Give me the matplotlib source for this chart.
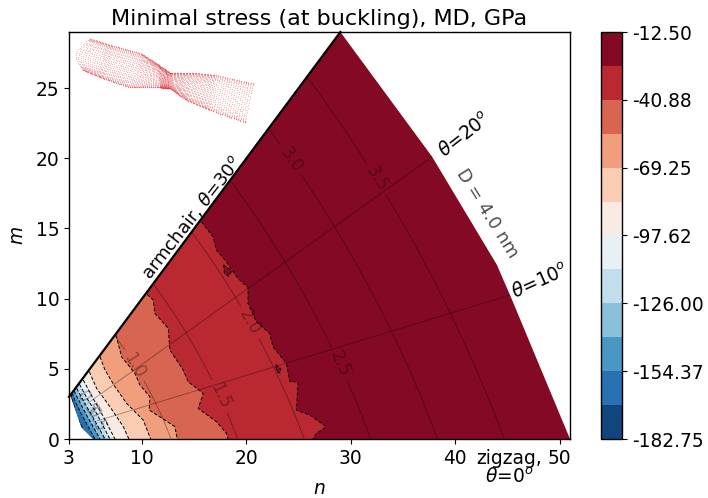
import numpy as np
import matplotlib
matplotlib.use('Agg')
import matplotlib.pyplot as plt
from matplotlib.patches import Polygon
from matplotlib.colors import BoundaryNorm, ListedColormap
from matplotlib.cm import ScalarMappable

# contour levels, GPa
levels = [-182.75, -168.56, -154.37, -140.19, -126.00, -111.81, -97.62,
          -83.44, -69.25, -55.06, -40.88, -26.69, -12.50]
cbar_ticks = levels[::2]

# outline of the (n, m) region with data
domain = [(3, 3), (29, 29), (37.8, 20.1), (44, 12.4), (45.4, 10.0), (48.2, 5), (51, 0),
          (5.3, 0), (4.2, 0.85), (3.1, 3.2)]

# stress contours, from the armchair edge down to m=0
c_2669 = [(15.7, 15.48), (16.81, 14.41), (17.13, 13.46), (18.09, 12.63), (19.2, 11.44),
          (20.16, 10.8), (20.16, 9.66), (20.96, 8.35), (22.24, 7.52), (22.55, 6.57),
          (23.83, 5.39), (24.15, 4.08), (24.95, 4.08), (24.79, 2.06), (26.06, 1.71),
          (27.66, 0.88), (26.7, 0.4), (26.38, 0)]
c_4088 = [(10.5, 10.3), (11.07, 9.9), (11.23, 8.95), (12.51, 7.88), (12.67, 6.34),
          (13.94, 4.91), (14.42, 4.08), (15.86, 3.25), (15.38, 2.18), (17.13, 1.23),
          (18.09, 0.4), (18.25, 0)]
c_5506 = [(7.5, 7.4), (8.04, 5.86), (9.32, 4.67), (9.8, 3.84), (10.75, 3.01),
          (10.69, 2.06), (12.19, 1.35), (13.14, 0.88), (13.37, 0)]
c_6925 = [(5.97, 5.86), (6.45, 4.91), (7.4, 3.73), (8.52, 2.54), (10.11, 1.35), (10.82, 0)]
c_8344 = [(4.95, 4.79), (5.65, 3.6), (6.92, 2.3), (8.2, 0.88), (8.74, 0)]
c_9762 = [(4.37, 4.2), (5.3, 2.9), (6.29, 1.59), (7.4, 0)]
c_11181 = [(4.0, 3.9), (4.8, 2.8), (5.65, 1.82), (6.92, 0)]
c_12600 = [(3.74, 3.6), (4.4, 2.7), (5.17, 1.7), (6.45, 0)]
c_14019 = [(3.48, 3.44), (4.05, 2.6), (4.69, 1.7), (5.97, 0)]
c_15437 = [(3.29, 3.3), (3.65, 2.6), (4.2, 1.75), (5.49, 0)]
c_16856 = [(3.16, 3.2), (3.4, 2.6), (3.73, 1.7), (4.53, 0.4), (4.85, 0)]
contours = [c_2669, c_4088, c_5506, c_6925, c_8344, c_9762, c_11181, c_12600, c_14019,
            c_15437, c_16856]

# two small closed pockets of the top band
pocket_1 = [(17.8, 12.4), (18.6, 12.0), (18.3, 11.6), (17.9, 11.8)]
pocket_2 = [(22.8, 5.3), (23.3, 5.0), (23.2, 4.7), (22.9, 4.8)]

# diameter and chirality guide lines
d_levels = [0.5, 1.0, 1.5, 2.0, 2.5, 3.0, 3.5]
theta_levels = [10, 20]
d_label_pos = [(4.9, 2.6), (6.06, 1.7), (9.6, 5.4), (17.6, 3.1), (20.3, 8.3), (29, 5.4),
               (24.3, 19.9), (32.6, 18.6)]

# outline of the small tube picture
tube_top = [(5.01, 28.54), (7.24, 28.02), (9.95, 27.47), (11.39, 26.76), (12.67, 26.1),
            (14.9, 26.1), (17.13, 25.93), (20.64, 25.34)]
tube_bottom = [(4.37, 26.28), (6.29, 25.69), (8.84, 25.05), (11.71, 25.05), (12.67, 24.98),
               (14.26, 24.15), (16.49, 23.44), (19.84, 22.56)]

fs = 13.4
plt.rcParams['font.size'] = fs
plt.rcParams['mathtext.default'] = 'it'
plt.rcParams['axes.linewidth'] = 1.0

cmap = plt.get_cmap('RdBu_r')
band_colors = [cmap((i + 0.5) / 12) for i in range(12)]

fig = plt.figure(figsize=(7.08, 4.98), dpi=100)
ax = fig.add_axes([69 / 708, 59 / 498, 501 / 708, 407 / 498])
cax = fig.add_axes([601 / 708, 59 / 498, 21 / 708, 407 / 498])

domain_patch = Polygon(domain, closed=True, facecolor=band_colors[11], edgecolor='none', zorder=1)
ax.add_patch(domain_patch)

# paint from the top band inwards, every band covers the previous one up to its contour
for i, c in enumerate(contours):
    xs = [p[0] for p in c]
    ys = [p[1] for p in c]
    poly = ax.fill(xs + [3, 3], ys + [0, ys[0] + 1], color=band_colors[10 - i], lw=0, zorder=2)[0]
    poly.set_clip_path(domain_patch)
    line = ax.plot(xs, ys, color='k', lw=0.7, ls=(0, (3.5, 2)), zorder=3)[0]
    line.set_clip_path(domain_patch)

for pocket in (pocket_1, pocket_2):
    ax.add_patch(Polygon(pocket, closed=True, facecolor=band_colors[11], edgecolor='k', lw=0.7,
                         ls=(0, (3.5, 2)), zorder=3))

n_grid, m_grid = np.meshgrid(np.linspace(3, 51, 500), np.linspace(0, 29, 400))
diam = 0.246 / np.pi * np.sqrt(n_grid ** 2 + n_grid * m_grid + m_grid ** 2)
theta = np.degrees(np.arctan2(np.sqrt(3) * m_grid, 2 * n_grid + m_grid))
theta[diam < 0.5] = np.nan

cs_d = ax.contour(n_grid, m_grid, diam, levels=d_levels, colors='k', linewidths=0.7, alpha=0.33, zorder=4)
labels = ax.clabel(cs_d, fmt='%.1f', fontsize=12, inline=True, manual=d_label_pos)
for t in labels:
    t.set_alpha(0.33)
cs_d.set_clip_path(domain_patch)
cs_t = ax.contour(n_grid, m_grid, theta, levels=theta_levels, colors='k', linewidths=0.7, alpha=0.33, zorder=4)
cs_t.set_clip_path(domain_patch)

ax.plot([3, 29], [3, 29], color='k', lw=1.6, zorder=5, clip_on=False)

# tube, staggered dots between the two outlines
top = np.array(tube_top)
bottom = np.array(tube_bottom)
tx = []
ty = []
for j, u in enumerate(np.linspace(0, len(top) - 1, 110)):
    a = np.array([np.interp(u, np.arange(len(top)), top[:, k]) for k in (0, 1)])
    b = np.array([np.interp(u, np.arange(len(top)), bottom[:, k]) for k in (0, 1)])
    for w in np.linspace(0, 1, 26):
        w = min(w + 0.02 * (j % 2), 1)
        v = 0.5 - 0.5 * np.cos(np.pi * w)
        bulge = -1.0 * np.sin(np.pi * v) * max(0, 1 - u * 1.5)
        p = a + (b - a) * v
        tx.append(p[0] + bulge)
        ty.append(p[1])
ax.scatter(tx, ty, s=0.9, color='#d9303a', alpha=0.3, linewidths=0, zorder=6)

ax.text(14.7, 15.8, 'armchair, $\\theta$=30$^o$', rotation=52, ha='center', va='center',
        rotation_mode='anchor', fontsize=13)
ax.text(40.9, 21.6, '$\\theta$=20$^o$', rotation=38, ha='center', va='center',
        rotation_mode='anchor', fontsize=fs)
ax.text(48.2, 11.2, '$\\theta$=10$^o$', rotation=24, ha='center', va='center',
        rotation_mode='anchor', fontsize=fs)
ax.text(43.1, 16.1, 'D = 4.0 nm', rotation=-58, ha='center', va='center',
        rotation_mode='anchor', fontsize=12.7, color='k', alpha=0.7)
ax.text(45.2, -2.05, 'zigzag,\n$\\theta$=0$^o$', ha='center', va='center', fontsize=fs,
        linespacing=1.0, clip_on=False)

ax.set_xlim(3, 51)
ax.set_ylim(0, 29)
ax.set_xticks([3, 10, 20, 30, 40, 50])
ax.set_yticks([0, 5, 10, 15, 20, 25])
ax.set_xlabel('$n$', labelpad=8)
ax.set_ylabel('$m$', labelpad=6)
ax.set_title('Minimal stress (at buckling), MD, GPa', fontsize=16, pad=5)

norm = BoundaryNorm(levels, 12)
sm = ScalarMappable(norm=norm, cmap=ListedColormap(band_colors))
cb = fig.colorbar(sm, cax=cax, ticks=cbar_ticks, spacing='uniform')
cb.minorticks_off()
cb.ax.set_yticklabels(['%.2f' % v for v in cbar_ticks])

fig.savefig('out.png', dpi=100)
